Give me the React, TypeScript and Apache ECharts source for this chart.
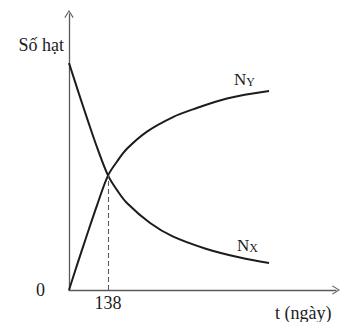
import React, { useEffect, useRef } from "react";
import * as echarts from "echarts";

// Time in days (x) and relative number of particles (y)
const nxDays = [0, 35, 67, 100, 138, 170, 205, 287, 367, 484, 605, 708];
const nxValues = [100, 86.5, 74.5, 62.6, 50.5, 44.0, 38.3, 29.5, 23.6, 18.2, 14.3, 11.9];
const nyDays = [0, 30, 60, 100, 138, 170, 205, 276, 368, 439, 559, 708];
const nyValues = [0, 11.6, 22.9, 37.6, 50.4, 56.6, 62.2, 69.8, 76.2, 79.6, 84.4, 87.7];
const crossDay = 138;
const crossValue = 50.4;
const xTickLabels = [138];
const yTickLabels = [0];
const xMax = 945;
const yMax = 121.6;

const FONT = "'Liberation Serif', 'Times New Roman', serif";
const INK = "#1c1c1c";
const AXIS = "#5a5a5a";
const CHEVRON = "path://M5,0 L10,8 L9,8.7 L5,1.9 L1,8.7 L0,8 Z";

export default function App() {
  const ref = useRef<HTMLDivElement>(null);
  useEffect(() => {
    if (!ref.current) return;
    const chart = echarts.init(ref.current, null, { renderer: "svg" });
    const nx = nxDays.map((d, i) => [d, nxValues[i]]);
    const ny = nyDays.map((d, i) => [d, nyValues[i]]);
    const sub = (main: string, s: string) => `{n|${main}}{s|${s}}`;
    const rich = {
      n: { fontSize: 17, lineHeight: 17, fontFamily: FONT, fill: INK },
      s: { fontSize: 12, lineHeight: 12, fontFamily: FONT, fill: INK, verticalAlign: "bottom" },
    };
    chart.setOption({
      animation: false,
      backgroundColor: "#ffffff",
      grid: { left: 69, right: 10, top: 14, bottom: 32, outerBoundsMode: "none" },
      xAxis: {
        type: "value",
        min: 0,
        max: xMax,
        splitLine: { show: false },
        axisTick: { show: false },
        axisLine: {
          show: true,
          lineStyle: { color: AXIS, width: 1.3 },
          symbol: ["none", CHEVRON],
          symbolSize: [10, 8],
        },
        axisLabel: {
          customValues: xTickLabels,
          color: INK,
          fontSize: 18,
          fontFamily: FONT,
          margin: 4,
        },
      },
      yAxis: {
        type: "value",
        min: 0,
        max: yMax,
        splitLine: { show: false },
        axisTick: { show: false },
        axisLine: {
          show: true,
          lineStyle: { color: AXIS, width: 1.3 },
          symbol: ["none", CHEVRON],
          symbolSize: [10, 8],
        },
        axisLabel: {
          customValues: yTickLabels,
          color: INK,
          fontSize: 18,
          fontFamily: FONT,
          margin: 24,
        },
      },
      series: [
        {
          name: "NX",
          type: "line",
          data: nx,
          smooth: 0.35,
          showSymbol: false,
          lineStyle: { color: INK, width: 2 },
          markLine: {
            silent: true,
            symbol: ["none", "none"],
            label: { show: false },
            lineStyle: { color: AXIS, width: 1.1, type: [5, 3] },
            data: [[{ coord: [crossDay, 0] }, { coord: [crossDay, crossValue] }]],
          },
        },
        {
          name: "NY",
          type: "line",
          data: ny,
          smooth: 0.35,
          showSymbol: false,
          lineStyle: { color: INK, width: 2 },
        },
      ],
      graphic: [
        {
          type: "text",
          x: 64,
          y: 45,
          style: { text: "Số hạt", font: `18px ${FONT}`, fill: INK, align: "right", verticalAlign: "middle" },
        },
        {
          type: "text",
          x: 275,
          y: 313,
          style: { text: "t (ngày)", font: `18px ${FONT}`, fill: INK, align: "left", verticalAlign: "middle" },
        },
        {
          type: "text",
          x: 234,
          y: 79,
          style: { text: sub("N", "Y"), rich, align: "left", verticalAlign: "middle" },
        },
        {
          type: "text",
          x: 237,
          y: 245,
          style: { text: sub("N", "X"), rich, align: "left", verticalAlign: "middle" },
        },
      ],
    });
    return () => chart.dispose();
  }, []);
  return (
    <div
      ref={ref}
      style={{ position: "fixed", left: 0, top: 0, width: 346, height: 322, background: "#fff" }}
    />
  );
}
